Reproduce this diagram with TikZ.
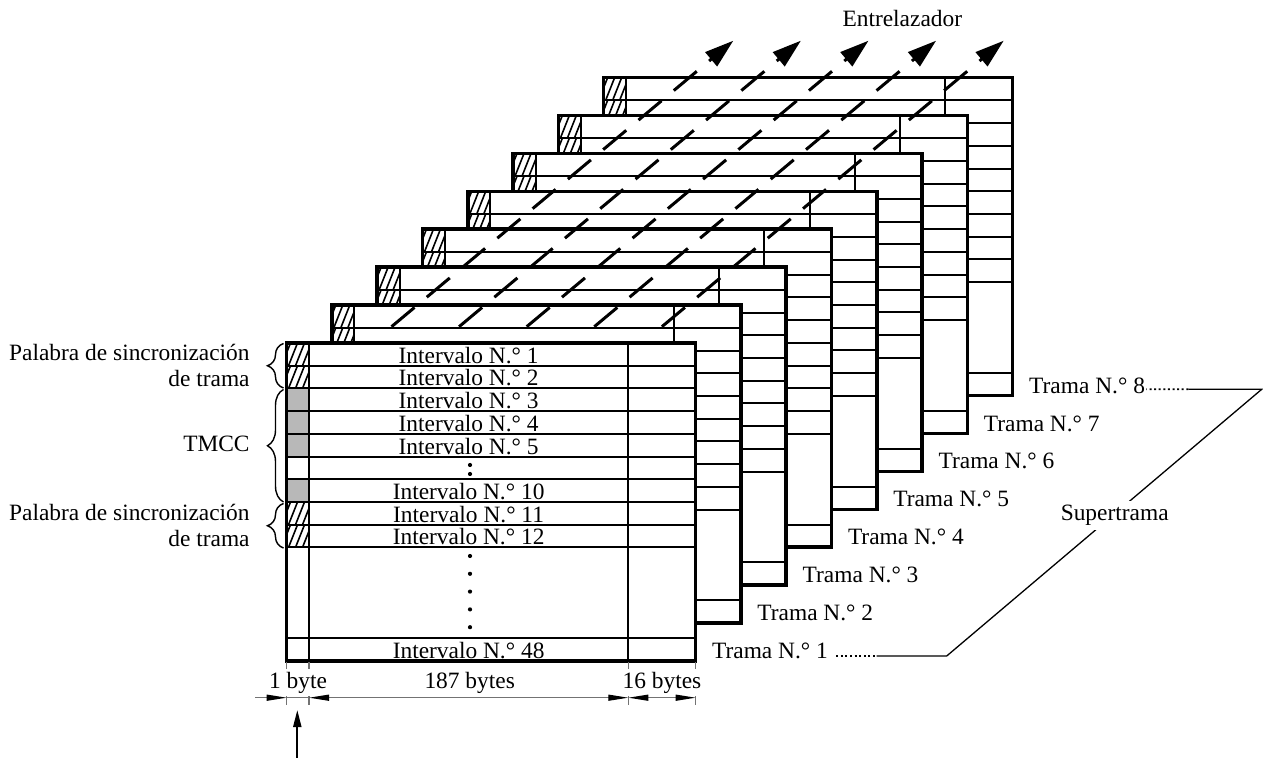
\documentclass[tikz,border=0pt]{standalone}
\usepackage{fontspec}
\setmainfont{Liberation Serif}
\usetikzlibrary{arrows.meta,decorations.pathreplacing,calc}
\definecolor{tmccgray}{gray}{0.72}
\begin{document}
\begin{tikzpicture}[x=0.5pt,y=-0.5pt,
  thinline/.style={line width=1pt},
  thickline/.style={line width=1.8pt},
  hatchline/.style={line width=0.8pt},
  lbl/.style={font=\fontsize{11.7}{14}\selectfont, inner sep=0pt},
  dimlbl/.style={lbl, fill=white, inner xsep=1.5pt, inner ysep=1.5pt},
  dashedflow/.style={line width=1.5pt, dash pattern=on 15pt off 8pt},
  flowhead/.style={line width=1.5pt, -{Triangle[length=14.5pt,width=9pt]}},
  dimline/.style={line width=0.6pt, draw=black!55},
  dimtip/.tip={Triangle[length=10pt,width=3pt,color=black]},
  bracestyle/.style={decorate, decoration={brace,amplitude=8pt}, line width=0.7pt},
  superline/.style={line width=0.65pt},
  dotline/.style={line width=0.9pt, dash pattern=on 1pt off 1.3pt}]
\useasboundingbox (0,0) rectangle (1263,758);
% frames, back to front
\foreach \k in {7,6,...,0}{
 \begin{scope}[shift={(45.3*\k,-37.9*\k)}]
  \fill[white] (286.5,343) rectangle (695.5,661);
  \fill[tmccgray] (286.5,388.43) rectangle (309,456.57);
  \fill[tmccgray] (286.5,479.29) rectangle (309,502);
  \foreach \ya/\yb in {343/365.71,365.71/388.43,502/524.71,524.71/547.43}{
   \begin{scope}
    \clip (286.5,\ya) rectangle (309,\yb);
    \foreach \s in {-12,-5,...,26}{\draw[hatchline] (286.5+\s,\yb) -- (295.5+\s,\ya);}
   \end{scope}}
  \foreach \y in {365.71,388.43,411.14,433.86,456.57,479.29,502,524.71,547.43,638.29}{
   \draw[thinline] (286.5,\y) -- (695.5,\y);}
  \draw[thinline] (309,343) -- (309,661) (628.3,343) -- (628.3,661);
  \draw[thickline] (286.5,343) rectangle (695.5,661);
 \end{scope}}
% interleaver flow lines
\foreach \i in {0,...,4}{
  \coordinate (fa\i) at (391.5+67.6*\i,326.7);
  \coordinate (fb\i) at (696.8+67.6*\i,71.3);
  \coordinate (fc\i) at (709.1+67.6*\i,61.0);
  \coordinate (ft\i) at (733.3+67.6*\i,40.7);
  \draw[dashedflow] (fa\i) -- (fb\i);
  \draw[flowhead] (fc\i) -- (ft\i);
}
\node[lbl, anchor=base] (ent) at (902.3,26.7) {Entrelazador};
% front frame texts
\node[lbl, anchor=base] (i1) at (468.6,363.2) {Intervalo N.° 1};
\node[lbl, anchor=base] (i2) at (468.6,385.9) {Intervalo N.° 2};
\node[lbl, anchor=base] (i3) at (468.6,408.6) {Intervalo N.° 3};
\node[lbl, anchor=base] (i4) at (468.6,431.4) {Intervalo N.° 4};
\node[lbl, anchor=base] (i5) at (468.6,454.1) {Intervalo N.° 5};
\node[lbl, anchor=base] (i10) at (468.6,499.5) {Intervalo N.° 10};
\node[lbl, anchor=base] (i11) at (468.6,522.2) {Intervalo N.° 11};
\node[lbl, anchor=base] (i12) at (468.6,544.9) {Intervalo N.° 12};
\node[lbl, anchor=base] (i48) at (468.6,658.5) {Intervalo N.° 48};
\fill (470,465) circle (2.1);
\fill (470,474) circle (2.1);
\foreach \yy in {556,573.8,591.6,609.4,627.2}{\fill (470,\yy) circle (2.1);}
% left labels and braces
\node[lbl, anchor=base east] (ps1) at (250,361) {Palabra de sincronización};
\node[lbl, anchor=base east] (dt1) at (250,386.5) {de trama};
\node[lbl, anchor=base east] (tm) at (250,451.7) {TMCC};
\node[lbl, anchor=base east] (ps2) at (250,520.6) {Palabra de sincronización};
\node[lbl, anchor=base east] (dt2) at (250,546.1) {de trama};
\coordinate (br1a) at (283.5,388); \coordinate (br1b) at (283.5,343.5);
\coordinate (br2a) at (283.5,502); \coordinate (br2b) at (283.5,389.5);
\coordinate (br3a) at (283.5,548); \coordinate (br3b) at (283.5,503.5);
\draw[bracestyle] (br1a) -- (br1b);
\draw[bracestyle] (br2a) -- (br2b);
\draw[bracestyle] (br3a) -- (br3b);
% dimensions
\foreach \n/\xx in {1/286.7,2/309,3/628.3,4/695.7}{
  \coordinate (e\n t) at (\xx,662);
  \coordinate (e\n b) at (\xx,705);
  \coordinate (d\n) at (\xx,697.7);
  \draw[dimline] (e\n t) -- (e\n b);
}
\node[dimlbl, anchor=base] (b1) at (298,688.3) {1 byte};
\node[dimlbl, anchor=base] (b187) at (469.7,688.3) {187 bytes};
\node[dimlbl, anchor=base] (b16) at (662,688.3) {16 bytes};
\coordinate (d0) at (255,697.7);
\draw[dimline, -dimtip] (d0) -- (d1);
\draw[dimline] (d1) -- (d2);
\draw[dimline, dimtip-dimtip] (d2) -- (d3);
\draw[dimline, dimtip-dimtip] (d3) -- (d4);
\coordinate (ua) at (297.3,758); \coordinate (ub) at (297.3,710);
\draw[line width=1pt, -{Triangle[length=8.5pt,width=4pt]}] (ua) -- (ub);
% frame labels
\foreach \k in {1,...,8}{
  \node[lbl, anchor=base west] (tr\k) at (711.7+45.3*\k-45.3, 658.5-37.9*\k+37.9) {Trama N.° \k};
}
% supertrama bracket
\coordinate (p1) at ($(tr1.base east)+(8,-2.5)$);
\coordinate (p2) at (876.7,656);
\coordinate (p3) at (946.7,656);
\coordinate (p4) at (1261.7,389.3);
\coordinate (p5) at (1188.3,389.3);
\coordinate (p6) at ($(tr8.base east)+(1,-3.9)$);
\draw[dotline] (p1) -- (p2);
\draw[superline] (p2) -- (p3) -- (p4) -- (p5);
\draw[dotline] (p5) -- (p6);
\node[lbl, fill=white, inner sep=2pt, anchor=base] (sup) at (1114.7,520.7) {Supertrama};
\end{tikzpicture}
\end{document}
